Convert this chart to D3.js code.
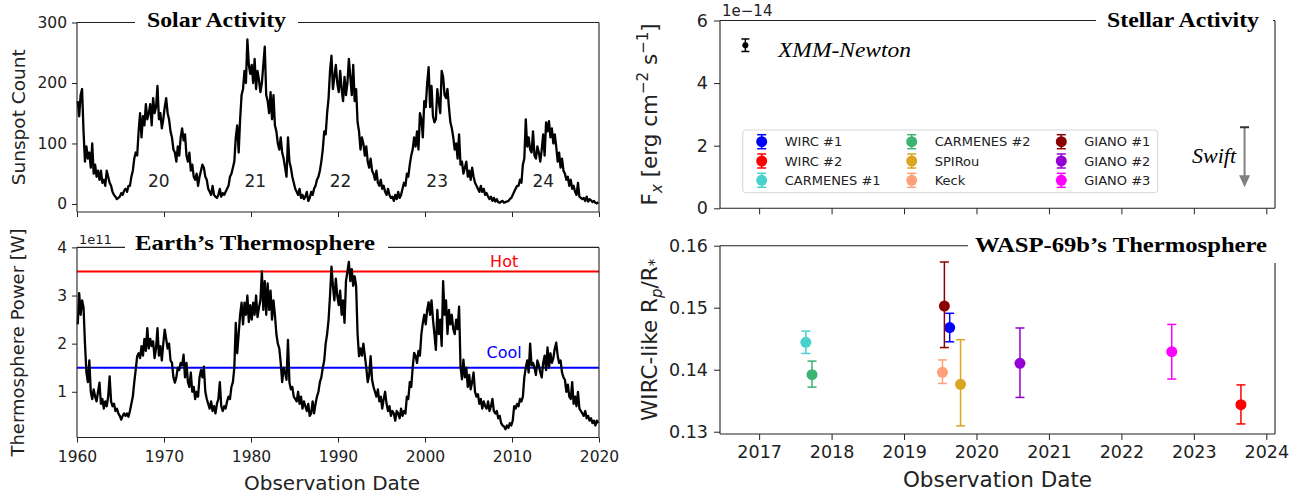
<!DOCTYPE html>
<html>
<head>
<meta charset="utf-8">
<script src="https://cdn.jsdelivr.net/npm/d3@7"></script>
<style>
    body { margin: 0; background: #fff; }
    svg { display: block; }
    .tick line { stroke: #222; stroke-width: 1; }
    .tick text { fill: #222; font-family: "DejaVu Sans", sans-serif; }
    .spine { stroke: #222; stroke-width: 1.1; fill: none; }
    .title { font-family: "Liberation Serif", serif; font-weight: bold; fill: #000; }
    .lbl { font-family: "DejaVu Sans", sans-serif; fill: #222; }
</style>
</head>
<body>
<svg width="1297" height="496"></svg>
<script>
/****** DATA ******/

// Sunspot count, 6 samples per year starting 1960
var sampleStart = 1960;
var samplesPerYear = 6;
var sunspots = [
    170, 145, 180, 190, 120, 70,     // 1960
    95, 75, 85, 60, 100, 50,         // 1961
    65, 45, 55, 40, 55, 35,          // 1962
    40, 30, 55, 45, 35, 30,          // 1963
    20, 15, 12, 8, 10, 12,           // 1964
    18, 15, 22, 25, 20, 30,          // 1965
    30, 45, 55, 75, 85, 80,          // 1966
    120, 150, 110, 145, 130, 165,    // 1967
    140, 150, 165, 130, 175, 150,    // 1968
    160, 195, 140, 150, 125, 140,    // 1969
    160, 175, 150, 140, 120, 110,    // 1970
    90, 85, 70, 95, 80, 110,         // 1971
    125, 105, 115, 80, 70, 85,       // 1972
    55, 65, 45, 40, 50, 30,          // 1973
    45, 55, 65, 60, 45, 40,          // 1974
    25, 20, 15, 30, 15, 12,          // 1975
    10, 15, 25, 12, 18, 15,          // 1976
    20, 25, 30, 45, 50, 60,          // 1977
    70, 110, 130, 85, 140, 180,      // 1978
    190, 220, 200, 272, 230, 215,    // 1979
    230, 200, 240, 190, 220, 205,    // 1980
    185, 200, 230, 260, 180, 170,    // 1981
    150, 185, 140, 180, 130, 120,    // 1982
    100, 90, 110, 85, 75, 60,        // 1983
    45, 110, 70, 60, 45, 35,         // 1984
    25, 20, 15, 25, 10, 15,          // 1985
    8, 12, 20, 5, 10, 20,            // 1986
    15, 25, 30, 40, 45, 55,          // 1987
    70, 90, 120, 115, 150, 175,      // 1988
    220, 245, 190, 210, 230, 200,    // 1989
    185, 220, 190, 170, 210, 180,    // 1990
    200, 240, 210, 180, 230, 170,    // 1991
    190, 135, 120, 90, 110, 100,     // 1992
    80, 95, 70, 60, 75, 55,          // 1993
    50, 40, 55, 35, 30, 40,          // 1994
    25, 30, 20, 15, 25, 15,          // 1995
    10, 12, 5, 15, 8, 20,            // 1996
    10, 15, 25, 35, 30, 50,          // 1997
    45, 65, 80, 90, 110, 95,         // 1998
    120, 90, 150, 140, 110, 170,     // 1999
    160, 200, 226, 160, 195, 145,    // 2000
    135, 140, 190, 170, 150, 220,    // 2001
    210, 180, 175, 190, 160, 135,    // 2002
    125, 110, 90, 100, 75, 115,      // 2003
    65, 70, 50, 60, 70, 45,          // 2004
    55, 40, 60, 45, 35, 30,          // 2005
    25, 20, 30, 20, 25, 15,          // 2006
    18, 12, 8, 12, 5, 10,            // 2007
    4, 8, 3, 2, 4, 5,                // 2008
    2, 3, 4, 5, 8, 10,               // 2009
    15, 20, 25, 30, 30, 40,          // 2010
    35, 65, 75, 140, 95, 110,        // 2011
    90, 85, 120, 80, 75, 95,         // 2012
    85, 70, 90, 115, 80, 135,        // 2013
    120, 137, 110, 125, 100, 115,    // 2014
    95, 70, 85, 60, 75, 55,          // 2015
    50, 40, 45, 30, 40, 25,          // 2016
    30, 20, 15, 35, 12, 10,          // 2017
    8, 10, 5, 12, 4, 8,              // 2018
    6, 3, 5, 2, 1, 3                 // 2019
];

// Thermosphere power in units of 1e11 W, same sampling
var thermoPower = [
    2.4, 3.05, 2.6, 2.9, 2.75, 2.0,      // 1960
    1.4, 1.2, 1.65, 1.0, 0.85, 1.05,     // 1961
    0.9, 0.8, 1.0, 1.19, 0.75, 0.85,     // 1962
    0.65, 0.8, 0.7, 0.9, 1.32, 0.8,      // 1963
    0.7, 0.75, 0.6, 0.65, 0.55, 0.5,     // 1964
    0.42, 0.5, 0.55, 0.5, 0.55, 0.48,    // 1965
    0.6, 0.75, 0.9, 1.2, 1.46, 1.74,     // 1966
    1.8, 1.7, 1.95, 1.75, 2.1, 1.85,     // 1967
    2.32, 1.9, 2.1, 1.95, 2.05, 1.7,     // 1968
    1.9, 2.32, 1.75, 1.95, 1.65, 2.0,    // 1969
    2.29, 2.1, 1.9, 2.0, 1.65, 1.6,      // 1970
    1.3, 1.19, 1.3, 1.5, 1.45, 1.6,      // 1971
    1.55, 1.77, 1.3, 1.6, 1.2, 1.1,      // 1972
    1.4, 1.0, 1.1, 0.85, 1.0, 0.9,       // 1973
    1.3, 1.45, 1.3, 1.52, 1.0, 0.85,     // 1974
    0.75, 0.65, 0.8, 0.6, 0.7, 0.55,     // 1975
    0.75, 0.85, 1.2, 0.7, 0.6, 0.7,      // 1976
    0.65, 0.8, 0.9, 0.85, 1.1, 1.2,      // 1977
    1.5, 2.43, 1.8, 2.2, 2.6, 2.85,      // 1978
    2.4, 2.85, 2.6, 3.0, 2.45, 2.8,      // 1979
    2.5, 2.85, 2.6, 3.0, 2.55, 2.75,     // 1980
    2.9, 3.5, 2.7, 3.3, 2.6, 3.25,       // 1981
    2.7, 3.1, 2.5, 2.9, 2.6, 2.2,        // 1982
    2.0, 1.9, 1.6, 1.2, 1.5, 1.4,        // 1983
    1.25, 2.08, 1.2, 1.05, 1.1, 0.9,     // 1984
    0.85, 0.8, 1.0, 0.75, 0.9, 0.65,     // 1985
    0.8, 0.7, 0.6, 0.75, 0.5, 0.55,      // 1986
    0.8, 0.55, 0.75, 0.9, 1.0, 1.2,      // 1987
    1.3, 1.5, 1.65, 2.0, 2.2, 2.5,       // 1988
    3.0, 3.6, 3.2, 2.9, 3.35, 3.0,       // 1989
    2.8, 3.1, 2.6, 2.9, 2.43, 3.3,       // 1990
    3.5, 3.7, 3.3, 3.55, 3.2, 3.4,       // 1991
    3.2, 2.2, 1.74, 1.9, 1.75, 2.0,      // 1992
    1.75, 1.5, 1.2, 1.35, 1.74, 1.25,    // 1993
    1.1, 1.0, 0.9, 1.05, 0.8, 0.9,       // 1994
    0.65, 0.85, 1.0, 0.75, 0.6, 0.7,     // 1995
    0.5, 0.6, 0.55, 0.4, 0.6, 0.55,      // 1996
    0.45, 0.65, 0.5, 0.6, 0.55, 0.9,     // 1997
    0.85, 1.2, 1.1, 1.5, 1.81, 1.75,     // 1998
    1.6, 1.85, 1.75, 2.2, 2.43, 2.6,     // 1999
    2.4, 2.7, 2.86, 2.6, 2.9, 2.5,       // 2000
    2.2, 1.87, 2.7, 2.2, 2.5, 1.95,      // 2001
    3.3, 2.6, 2.9, 2.2, 2.7, 2.4,        // 2002
    2.6, 2.3, 2.2, 2.5, 2.3, 2.77,       // 2003
    1.53, 1.26, 1.67, 1.3, 1.5, 1.1,     // 2004
    1.35, 1.05, 1.2, 1.4, 1.0, 0.9,      // 2005
    0.95, 0.75, 0.85, 0.65, 0.8, 0.7,    // 2006
    0.65, 0.8, 0.6, 0.7, 0.85, 0.6,      // 2007
    0.55, 0.6, 0.45, 0.5, 0.35, 0.3,     // 2008
    0.28, 0.22, 0.3, 0.25, 0.35, 0.3,    // 2009
    0.4, 0.7, 0.65, 0.75, 0.7, 0.85,     // 2010
    0.8, 0.9, 1.3, 1.5, 1.65, 1.4,       // 2011
    2.0, 1.55, 1.6, 1.5, 1.35, 1.65,     // 2012
    1.55, 1.4, 1.3, 1.6, 1.75, 1.45,     // 2013
    1.92, 1.5, 1.8, 1.6, 1.7, 1.9,       // 2014
    2.02, 1.75, 1.6, 1.65, 1.4, 1.3,     // 2015
    1.25, 1.0, 1.15, 0.9, 0.85, 1.2,     // 2016
    0.75, 0.9, 0.7, 1.0, 0.65, 0.6,      // 2017
    0.55, 0.5, 0.6, 0.45, 0.5, 0.4,      // 2018
    0.45, 0.35, 0.4, 0.3, 0.4, 0.35      // 2019
];

// Solar cycle labels
var cycleNames = ["20", "21", "22", "23", "24"];
var cycleYears = [1969.4, 1980.5, 1990.3, 2001.4, 2013.6];
var cycleLabelValue = 38;

// Reference levels on the thermosphere panel
var levelNames = ["Hot", "Cool"];
var levelValues = [3.5, 1.5];
var levelLabelValues = [3.6, 1.7];
var levelLabelYear = 2009.1;

// Transit depth measurements
var instruments = ["WIRC #1", "WIRC #2", "CARMENES #1", "CARMENES #2", "SPIRou",
                   "Keck", "GIANO #1", "GIANO #2", "GIANO #3"];
var obsDates = [2019.63, 2023.65, 2017.645, 2017.73, 2019.78, 2019.53, 2019.557, 2020.6, 2022.695];
var rpRs = [0.1468, 0.13435, 0.14442, 0.13919, 0.13764, 0.13958, 0.15027, 0.14103, 0.1429];
var rpRsErrUp = [0.0023, 0.0032, 0.0018, 0.0022, 0.0072, 0.0020, 0.0071, 0.0057, 0.0044];
var rpRsErrDown = [0.0023, 0.0031, 0.0018, 0.0020, 0.0067, 0.0018, 0.0067, 0.0055, 0.0044];

// X-ray flux (1e-14 erg/cm2/s)
var xmmDate = [2016.81];
var xmmFlux = [5.21];
var xmmErr = [0.2];
var swiftDate = [2023.70];
var swiftLimit = [2.59];

// Tick values
var sunspotTicks = [0, 100, 200, 300];
var powerTicks = [1, 2, 3, 4];
var leftYearTicks = [1960, 1970, 1980, 1990, 2000, 2010, 2020];
var fluxTicks = [0, 2, 4, 6];
var rpTicks = [0.13, 0.14, 0.15, 0.16];
var rightYearTicks = [2017, 2018, 2019, 2020, 2021, 2022, 2023, 2024];

/****** LAYOUT ******/

var svg = d3.select("svg");

var L = {left: 77, right: 599, topA: 22.5, botA: 212, topB: 247.4, botB: 437.5};
var R = {left: 720, right: 1275, topC: 20.5, botC: 208.3, topD: 245.7, botD: 434};

var xLeft = d3.scaleLinear().domain([1960, 2020]).range([L.left, L.right]);
var ySun = d3.scaleLinear().domain([-13.3, 300]).range([L.botA, L.topA]);
var yPow = d3.scaleLinear().domain([0.05, 4]).range([L.botB, L.topB]);
var xRight = d3.scaleLinear().domain([2016.46, 2024.12]).range([R.left, R.right]);
var yFlux = d3.scaleLinear().domain([0, 6]).range([R.botC, R.topC]);
var yRp = d3.scaleLinear().domain([0.12963, 0.16]).range([R.botD, R.topD]);

var color = d3.scaleOrdinal()
    .domain(instruments)
    .range(["#0000ff", "#ff0000", "#48d1cc", "#3cb371", "#daa520",
            "#ffa07a", "#8b0000", "#9400d3", "#ff00ff"]);

var intFmt = d3.format("d");

function sampleYear(i) {
    return sampleStart + (i + 0.5) / samplesPerYear;
}

/****** HELPERS ******/

function seg(x1, y1, x2, y2) {
    svg.append("line").attr("class", "spine")
        .attr("x1", x1).attr("y1", y1).attr("x2", x2).attr("y2", y2);
}

function renderAxis(axis, tx, ty, fontSize) {
    var g = svg.append("g")
        .attr("transform", "translate(" + tx + "," + ty + ")")
        .call(axis);
    g.select(".domain").remove();
    g.selectAll(".tick text").style("font-size", fontSize + "px");
    return g;
}

function title(txt, x, y, w, size) {
    svg.append("text").attr("class", "title")
        .attr("x", x).attr("y", y)
        .attr("textLength", w).attr("lengthAdjust", "spacingAndGlyphs")
        .style("font-size", size + "px")
        .text(txt);
}

/****** LEFT PANELS ******/

svg.append("path")
    .datum(sunspots)
    .attr("fill", "none").attr("stroke", "#000").attr("stroke-width", 2.3)
    .attr("stroke-linejoin", "round")
    .attr("d", d3.line()
        .x(function(d, i) { return xLeft(sampleYear(i)); })
        .y(function(d) { return ySun(d); }));

svg.selectAll("text.cycle")
    .data(cycleNames)
    .enter().append("text")
    .attr("class", "lbl cycle")
    .attr("x", function(d, i) { return xLeft(cycleYears[i]); })
    .attr("y", ySun(cycleLabelValue))
    .attr("dy", "0.35em")
    .attr("text-anchor", "middle")
    .style("font-size", "17px")
    .text(function(d) { return d; });

var levelColor = ["#ff0000", "#0000ff"];
levelValues.forEach(function(v, i) {
    svg.append("line")
        .attr("x1", L.left).attr("x2", L.right)
        .attr("y1", yPow(v)).attr("y2", yPow(v))
        .attr("stroke", levelColor[i]).attr("stroke-width", 2);
    svg.append("text")
        .attr("x", xLeft(levelLabelYear)).attr("y", yPow(levelLabelValues[i]))
        .attr("text-anchor", "middle")
        .style("font-family", "DejaVu Sans").style("font-size", "16px")
        .attr("fill", levelColor[i])
        .text(levelNames[i]);
});

svg.append("path")
    .datum(thermoPower)
    .attr("fill", "none").attr("stroke", "#000").attr("stroke-width", 2.3)
    .attr("stroke-linejoin", "round")
    .attr("d", d3.line()
        .x(function(d, i) { return xLeft(sampleYear(i)); })
        .y(function(d) { return yPow(d); }));

// axes
renderAxis(d3.axisLeft(ySun).tickValues(sunspotTicks).tickSize(5).tickPadding(5)
    .tickFormat(intFmt), L.left, 0, 15.5);
renderAxis(d3.axisBottom(xLeft).tickValues(leftYearTicks).tickSize(5).tickFormat(""), 0, L.botA, 15.5);
renderAxis(d3.axisLeft(yPow).tickValues(powerTicks).tickSize(5).tickPadding(5)
    .tickFormat(intFmt), L.left, 0, 15.5);
renderAxis(d3.axisBottom(xLeft).tickValues(leftYearTicks).tickSize(5).tickPadding(8)
    .tickFormat(intFmt), 0, L.botB, 15.5);

// spines with gaps for the titles
seg(L.left, L.topA, L.left, L.botA);
seg(L.left, L.botA, L.right, L.botA);
seg(L.right, L.topA, L.right, L.botA);
seg(L.left, L.topA, 135, L.topA);
seg(298, L.topA, L.right, L.topA);

seg(L.left, L.topB, L.left, L.botB);
seg(L.left, L.botB, L.right, L.botB);
seg(L.right, L.topB, L.right, L.botB);
seg(L.left, L.topB, 125, L.topB);
seg(388, L.topB, L.right, L.topB);

title("Solar Activity", 147, 27, 139, 21);
title("Earth\u2019s Thermosphere", 135, 250, 240, 21);

svg.append("text").attr("class", "lbl")
    .attr("x", 79).attr("y", 244).style("font-size", "13px").text("1e11");

svg.append("text").attr("class", "lbl")
    .attr("transform", "translate(25," + ((L.topA + L.botA) / 2) + ")rotate(-90)")
    .attr("text-anchor", "middle").style("font-size", "18.5px")
    .text("Sunspot Count");
svg.append("text").attr("class", "lbl")
    .attr("transform", "translate(24," + ((L.topB + L.botB) / 2) + ")rotate(-90)")
    .attr("text-anchor", "middle").style("font-size", "18px")
    .text("Thermosphere Power [W]");
svg.append("text").attr("class", "lbl")
    .attr("x", 332).attr("y", 490).attr("text-anchor", "middle")
    .style("font-size", "20px").text("Observation Date");

/****** RIGHT TOP PANEL ******/

// XMM-Newton detection
svg.selectAll("g.xmm")
    .data(xmmFlux)
    .enter().append("g").attr("class", "xmm")
    .each(function(d, i) {
        var g = d3.select(this), cx = xRight(xmmDate[i]);
        g.append("line").attr("x1", cx).attr("x2", cx)
            .attr("y1", yFlux(d + xmmErr[i])).attr("y2", yFlux(d - xmmErr[i]))
            .attr("stroke", "#000").attr("stroke-width", 1.5);
        [d + xmmErr[i], d - xmmErr[i]].forEach(function(v) {
            g.append("line").attr("x1", cx - 4).attr("x2", cx + 4)
                .attr("y1", yFlux(v)).attr("y2", yFlux(v))
                .attr("stroke", "#000").attr("stroke-width", 1.5);
        });
        g.append("circle").attr("cx", cx).attr("cy", yFlux(d)).attr("r", 3).attr("fill", "#000");
    });

// Swift upper limit
svg.selectAll("g.swift")
    .data(swiftLimit)
    .enter().append("g").attr("class", "swift")
    .each(function(d, i) {
        var g = d3.select(this), cx = xRight(swiftDate[i]);
        var tip = yFlux(d - 1.92);
        g.append("line").attr("x1", cx).attr("x2", cx)
            .attr("y1", yFlux(d)).attr("y2", tip - 11)
            .attr("stroke", "#808080").attr("stroke-width", 2);
        g.append("path")
            .attr("d", "M" + (cx - 5.5) + "," + (tip - 12) + "L" + (cx + 5.5) + "," + (tip - 12) +
                "L" + cx + "," + tip + "Z")
            .attr("fill", "#808080");
        g.append("line").attr("x1", cx - 4.5).attr("x2", cx + 4.5)
            .attr("y1", yFlux(d)).attr("y2", yFlux(d))
            .attr("stroke", "#333").attr("stroke-width", 2);
    });

svg.append("text")
    .attr("x", 778).attr("y", 57)
    .attr("textLength", 133).attr("lengthAdjust", "spacingAndGlyphs")
    .style("font-family", "Liberation Serif").style("font-style", "italic")
    .style("font-size", "22px").text("XMM-Newton");
svg.append("text")
    .attr("x", 1192).attr("y", 163)
    .style("font-family", "Liberation Serif").style("font-style", "italic")
    .style("font-size", "22px").text("Swift");

// legend
var legend = svg.append("g").attr("transform", "translate(742.7,130)");
legend.append("rect")
    .attr("width", 415).attr("height", 62.7).attr("rx", 3)
    .attr("fill", "#fff").attr("fill-opacity", 0.8)
    .attr("stroke", "#d6d6d6").attr("stroke-width", 1);
var legCols = [19, 169, 318.6];
instruments.forEach(function(name, i) {
    var lx = legCols[Math.floor(i / 3)], ly = 11.7 + (i % 3) * 19.3;
    var c = color(name);
    legend.append("line").attr("x1", lx).attr("x2", lx).attr("y1", ly - 7).attr("y2", ly + 7)
        .attr("stroke", c).attr("stroke-width", 1.5);
    [ly - 7, ly + 7].forEach(function(v) {
        legend.append("line").attr("x1", lx - 4.5).attr("x2", lx + 4.5).attr("y1", v).attr("y2", v)
            .attr("stroke", c).attr("stroke-width", 1.5);
    });
    legend.append("circle").attr("cx", lx).attr("cy", ly).attr("r", 5.5).attr("fill", c);
    legend.append("text").attr("class", "lbl")
        .attr("x", lx + 23).attr("y", ly).attr("dy", "0.36em")
        .style("font-size", "13px").text(name);
});

renderAxis(d3.axisLeft(yFlux).tickValues(fluxTicks).tickSize(6).tickPadding(6)
    .tickFormat(intFmt), R.left, 0, 17.5);
renderAxis(d3.axisBottom(xRight).tickValues(rightYearTicks).tickSize(6).tickFormat(""), 0, R.botC, 17.5);

seg(R.left, R.topC, R.left, R.botC);
seg(R.left, R.botC, R.right, R.botC);
seg(R.right, R.topC, R.right, R.botC);
seg(R.left, R.topC, 1096, R.topC);
seg(1273, R.topC, R.right, R.topC);

title("Stellar Activity", 1107, 27, 152, 21);

svg.append("text").attr("class", "lbl")
    .attr("x", 722).attr("y", 16).style("font-size", "15px").text("1e\u221214");

var fxLabel = svg.append("text").attr("class", "lbl")
    .attr("transform", "translate(657," + ((R.topC + R.botC) / 2) + ")rotate(-90)")
    .attr("text-anchor", "middle").style("font-size", "21.5px");
fxLabel.append("tspan").text("F");
fxLabel.append("tspan").attr("dy", 5).style("font-size", "15px").style("font-style", "italic").text("x");
fxLabel.append("tspan").attr("dy", -5).text(" [erg cm");
fxLabel.append("tspan").attr("dy", -9).style("font-size", "15px").text("\u22122");
fxLabel.append("tspan").attr("dy", 9).text(" s");
fxLabel.append("tspan").attr("dy", -9).style("font-size", "15px").text("\u22121");
fxLabel.append("tspan").attr("dy", 9).text("]");

/****** RIGHT BOTTOM PANEL ******/

svg.selectAll("g.meas")
    .data(instruments)
    .enter().append("g").attr("class", "meas")
    .each(function(name, i) {
        var g = d3.select(this), cx = xRight(obsDates[i]), c = color(name);
        var hi = rpRs[i] + rpRsErrUp[i], lo = rpRs[i] - rpRsErrDown[i];
        g.append("line").attr("x1", cx).attr("x2", cx)
            .attr("y1", yRp(hi)).attr("y2", yRp(lo))
            .attr("stroke", c).attr("stroke-width", 1.5);
        [hi, lo].forEach(function(v) {
            g.append("line").attr("x1", cx - 4.5).attr("x2", cx + 4.5)
                .attr("y1", yRp(v)).attr("y2", yRp(v))
                .attr("stroke", c).attr("stroke-width", 1.5);
        });
        g.append("circle").attr("cx", cx).attr("cy", yRp(rpRs[i])).attr("r", 5.5).attr("fill", c);
    });

renderAxis(d3.axisLeft(yRp).tickValues(rpTicks).tickSize(6).tickPadding(6)
    .tickFormat(d3.format(".2f")), R.left, 0, 17.5);
renderAxis(d3.axisBottom(xRight).tickValues(rightYearTicks).tickSize(6).tickPadding(6)
    .tickFormat(intFmt), 0, R.botD, 17.5);

seg(R.left, R.topD, R.left, R.botD);
seg(R.left, R.botD, R.right, R.botD);
seg(R.right, 263, R.right, R.botD);
seg(R.left, R.topD, 968, R.topD);

title("WASP-69b\u2019s Thermosphere", 975, 252, 292, 22);

var rpLabel = svg.append("text").attr("class", "lbl")
    .attr("transform", "translate(657," + ((R.topD + R.botD) / 2) + ")rotate(-90)")
    .attr("text-anchor", "middle").style("font-size", "21.5px");
rpLabel.append("tspan").text("WIRC-like R");
rpLabel.append("tspan").attr("dy", 5).style("font-size", "15px").style("font-style", "italic").text("p");
rpLabel.append("tspan").attr("dy", -5).text("/R");
rpLabel.append("tspan").attr("dy", 3).style("font-size", "15px").text("*");

svg.append("text").attr("class", "lbl")
    .attr("x", (R.left + R.right) / 2).attr("y", 487).attr("text-anchor", "middle")
    .style("font-size", "21.5px").text("Observation Date");
</script>
</body>
</html>
